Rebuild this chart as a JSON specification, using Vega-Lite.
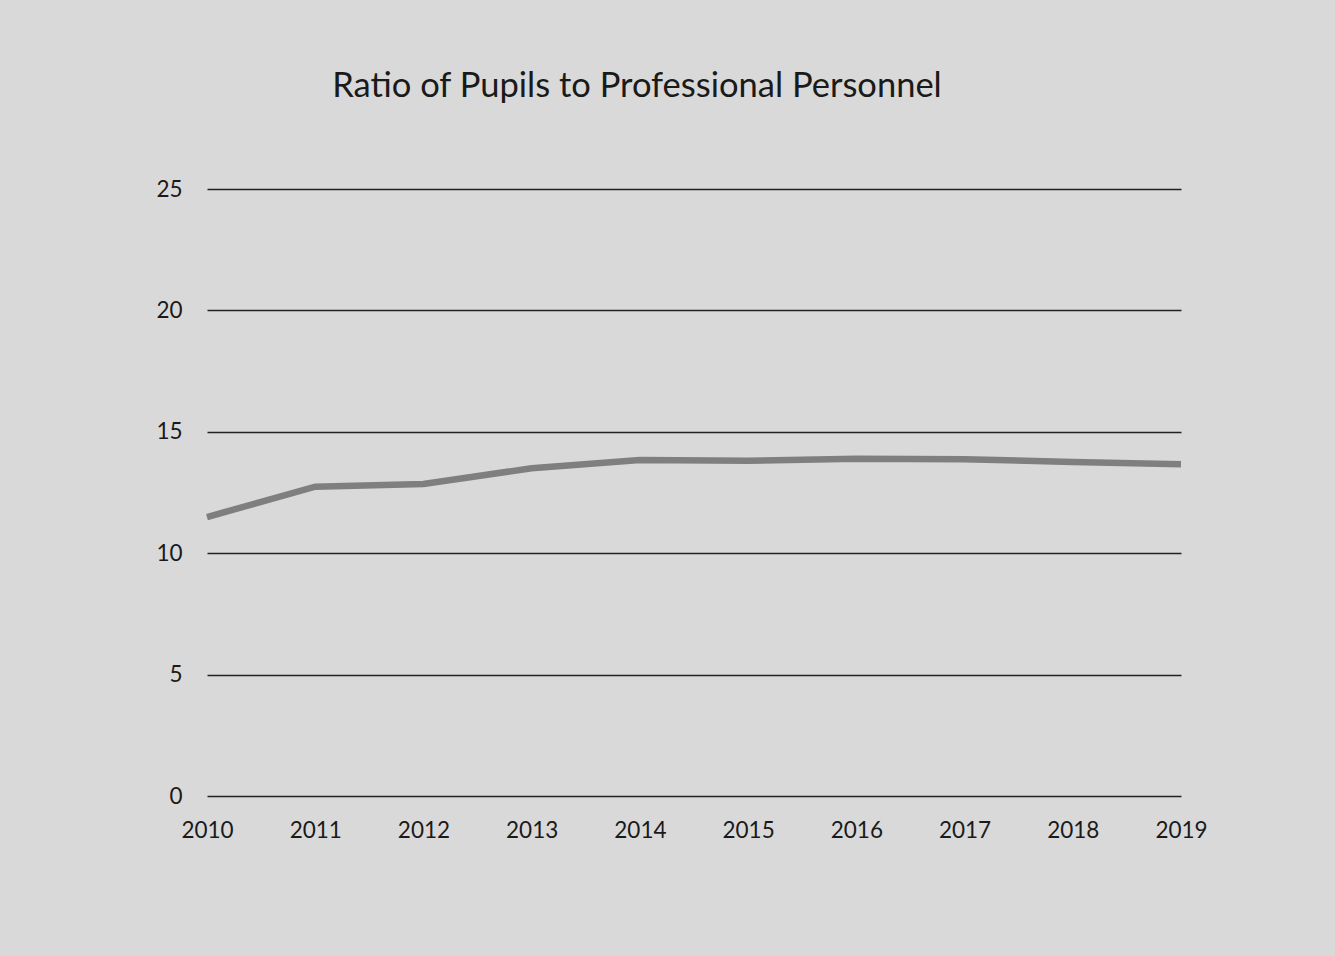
{
  "$schema": "https://vega.github.io/schema/vega-lite/v6.json",
  "width": 974,
  "height": 607,
  "autosize": "none",
  "padding": {"left": 207, "top": 189, "right": 154, "bottom": 160},
  "background": "#d9d9d9",
  "title": {
    "text": "Ratio of Pupils to Professional Personnel",
    "font": "Lato",
    "fontSize": 34.5,
    "fontWeight": "normal",
    "color": "#1a1a1a",
    "anchor": "middle",
    "baseline": "alphabetic",
    "offset": 47,
    "dx": -57
  },
  "data": {
    "values": [
      {"year": 2010, "ratio": 11.49},
      {"year": 2011, "ratio": 12.74},
      {"year": 2012, "ratio": 12.85},
      {"year": 2013, "ratio": 13.5},
      {"year": 2014, "ratio": 13.84},
      {"year": 2015, "ratio": 13.81},
      {"year": 2016, "ratio": 13.89},
      {"year": 2017, "ratio": 13.87},
      {"year": 2018, "ratio": 13.76},
      {"year": 2019, "ratio": 13.66}
    ]
  },
  "mark": {"type": "line", "color": "#7f7f7f", "strokeWidth": 6.5, "strokeCap": "butt", "strokeJoin": "miter"},
  "encoding": {
    "x": {
      "field": "year",
      "type": "quantitative",
      "scale": {"domain": [2010, 2019], "nice": false, "zero": false},
      "axis": {
        "title": null,
        "format": "d",
        "values": [2010, 2011, 2012, 2013, 2014, 2015, 2016, 2017, 2018, 2019],
        "grid": false,
        "domain": false,
        "ticks": false,
        "labelFont": "Lato",
        "labelFontSize": 22.5,
        "labelColor": "#1a1a1a",
        "labelPadding": 23,
        "labelFlush": false,
        "labelOverlap": false
      }
    },
    "y": {
      "field": "ratio",
      "type": "quantitative",
      "scale": {"domain": [0, 25], "nice": false},
      "axis": {
        "title": null,
        "values": [0, 5, 10, 15, 20, 25],
        "grid": true,
        "gridColor": "#222222",
        "gridWidth": 1.3,
        "gridOpacity": 1,
        "domain": false,
        "ticks": false,
        "labelFont": "Lato",
        "labelFontSize": 22.5,
        "labelColor": "#1a1a1a",
        "labelPadding": 25
      }
    }
  },
  "config": {"view": {"stroke": null}}
}
